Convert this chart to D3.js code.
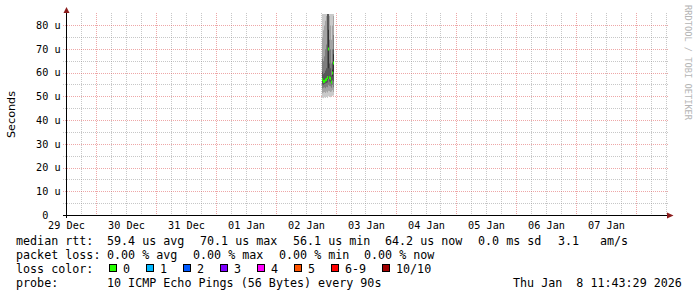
<!DOCTYPE html>
<html>
<head>
<meta charset="utf-8">
<script src="https://cdn.jsdelivr.net/npm/d3@7"></script>
<style>
  body { margin: 0; background: #fff; }
  svg { display: block; }
  .mono { font-family: 'DejaVu Sans Mono', monospace; fill: #000; white-space: pre; }
</style>
</head>
<body>
<div id="chart"></div>
<script>
// svg nominal area
var svgWidth = 697;
var svgHeight = 297;

// ----- data -----
// time window shown (UTC)
var timeStart = Date.UTC(2025, 11, 29, 12, 12);
var timeEnd = Date.UTC(2026, 0, 8, 12, 12);
var stepMinutes = 24;

// sample times for the one burst of data on 02 Jan
var sampleTimes = [
  '2026-01-02T18:24Z', '2026-01-02T18:48Z', '2026-01-02T19:12Z', '2026-01-02T19:36Z',
  '2026-01-02T20:00Z', '2026-01-02T20:24Z', '2026-01-02T20:48Z', '2026-01-02T21:12Z',
  '2026-01-02T21:36Z', '2026-01-02T22:00Z', '2026-01-02T22:24Z', '2026-01-02T22:48Z'
];

// 10 sorted ping rtts per sample (microseconds)
var pingSets = [
  [49.6, 51.5, 53.5, 55.2, 56.6, 58.0, 60.5, 66, 75, 92],
  [49.4, 51.8, 53.8, 55.0, 56.0, 56.8, 59.5, 65, 78, 95],
  [49.8, 52.0, 54.0, 55.4, 56.2, 56.8, 60.0, 67, 80, 98],
  [49.5, 51.6, 53.6, 55.6, 56.6, 57.4, 61.0, 70, 82, 99],
  [49.9, 52.2, 54.2, 55.8, 56.8, 57.8, 62.0, 72, 84, 97],
  [49.5, 51.8, 54.0, 56.0, 57.4, 58.8, 86, 90, 95, 99],
  [50.2, 52.5, 55.0, 57.5, 62.0, 78.2, 88, 92, 96, 100],
  [50.0, 52.4, 54.6, 56.4, 57.6, 58.4, 64, 74, 84, 96],
  [49.8, 52.0, 54.4, 56.0, 57.2, 58.2, 62, 70, 80, 94],
  [50.2, 52.2, 53.8, 55.2, 55.8, 56.4, 59, 64, 74, 90],
  [50.4, 52.8, 55.0, 57.0, 58.6, 61.4, 64.5, 70, 80, 93],
  [50.5, 52.0, 54.0, 56.5, 60.5, 67.9, 70, 76, 84, 95]
];

// median rtt per sample (microseconds) and loss per sample
var medians = [57.3, 56.4, 56.5, 57.0, 57.3, 58.1, 70.1, 58.0, 57.7, 56.1, 60.0, 64.2];
var losses = [0, 0, 0, 0, 0, 0, 0, 0, 0, 0, 0, 0];

// y ticks
var yMajorTicks = [0, 10, 20, 30, 40, 50, 60, 70, 80];
var yMinorTicks = [5, 15, 25, 35, 45, 55, 65, 75];

// loss colour legend
var lossLabels = ['0', '1', '2', '3', '4', '5', '6-9', '10/10'];
var lossColors = ['#26ff00', '#00b8ff', '#0059ff', '#7e00ff', '#ff00fe', '#ff5500', '#ff0000', '#a00000'];

// legend text items per row
var rttItems = ['median rtt:', '59.4 us avg', '70.1 us max', '56.1 us min', '64.2 us now', '0.0 ms sd', '3.1', 'am/s'];
var lossItems = ['packet loss:', '0.00 % avg', '0.00 % max', '0.00 % min', '0.00 % now'];
var probeItems = ['probe:', '10 ICMP Echo Pings (56 Bytes) every 90s'];
var stampText = 'Thu Jan  8 11:43:29 2026';

// -----------------------------------------------

var plot = { left: 66.5, right: 666.5, top: 13, bottom: 215.5 };

var svg = d3.select('#chart')
  .append('svg')
  .attr('width', svgWidth)
  .attr('height', svgHeight);

svg.append('rect')
  .attr('width', svgWidth)
  .attr('height', svgHeight)
  .attr('fill', '#fff');

// scales
var xScale = d3.scaleTime()
  .domain([new Date(timeStart), new Date(timeEnd)])
  .range([plot.left, plot.right]);

var yScale = d3.scaleLinear()
  .domain([0, 80])
  .range([215.5, 25.5]);

function px(v) { return Math.round(v - 0.5) + 0.5; }

// clip for the plot area
svg.append('clipPath')
  .attr('id', 'plotClip')
  .append('rect')
  .attr('x', plot.left)
  .attr('y', 14)
  .attr('width', plot.right - plot.left)
  .attr('height', 215 - 14);

var gridGroup = svg.append('g');

// vertical minor grid every 6 hours
var minorTimes = d3.utcHour.every(6).range(new Date(timeStart), new Date(timeEnd))
  .filter(d => d.getUTCHours() !== 0 && xScale(d) > plot.left + 1);
gridGroup.selectAll('line.vminor')
  .data(minorTimes)
  .enter()
  .append('line')
  .attr('x1', d => px(xScale(d)))
  .attr('x2', d => px(xScale(d)))
  .attr('y1', plot.top)
  .attr('y2', 215)
  .attr('stroke', 'rgba(143,143,143,0.5)')
  .attr('stroke-dasharray', '1,1');

// horizontal minor grid
gridGroup.selectAll('line.hminor')
  .data(yMinorTicks)
  .enter()
  .append('line')
  .attr('x1', 63)
  .attr('x2', 669)
  .attr('y1', d => px(yScale(d)))
  .attr('y2', d => px(yScale(d)))
  .attr('stroke', 'rgba(143,143,143,0.5)')
  .attr('stroke-dasharray', '1,1');

// vertical major grid at midnight
var dayTimes = d3.utcDay.range(new Date(timeStart), new Date(timeEnd));
gridGroup.selectAll('line.vmajor')
  .data(dayTimes)
  .enter()
  .append('line')
  .attr('x1', d => px(xScale(d)))
  .attr('x2', d => px(xScale(d)))
  .attr('y1', plot.top)
  .attr('y2', 215)
  .attr('stroke', 'rgba(222,80,80,0.5)')
  .attr('stroke-dasharray', '1,1');

// horizontal major grid
gridGroup.selectAll('line.hmajor')
  .data(yMajorTicks.filter(d => d > 0))
  .enter()
  .append('line')
  .attr('x1', 63)
  .attr('x2', 669)
  .attr('y1', d => px(yScale(d)))
  .attr('y2', d => px(yScale(d)))
  .attr('stroke', 'rgba(222,80,80,0.5)')
  .attr('stroke-dasharray', '1,1');

// smoke: pairs of pings from outside in, lighter to darker
var dataGroup = svg.append('g').attr('clip-path', 'url(#plotClip)');
var half = 5;
var smoke = [];
sampleTimes.forEach((t, i) => {
  var p = pingSets[i];
  for (var b = 0; b < half; b++) {
    var shade = Math.floor(190 / half * (half - 1 - b)) + 50;
    smoke.push({ t: new Date(t), lo: p[b], hi: p[p.length - 1 - b], shade: shade });
  }
});

function colX(t) { return Math.round(xScale(t)); }
function colW(t) {
  return Math.max(1, Math.round(xScale(new Date(+t + stepMinutes * 60000)) - xScale(t)));
}

dataGroup.selectAll('rect.smoke')
  .data(smoke)
  .enter()
  .append('rect')
  .attr('x', d => colX(d.t))
  .attr('width', d => colW(d.t))
  .attr('y', d => yScale(d.hi))
  .attr('height', d => yScale(d.lo) - yScale(d.hi))
  .attr('fill', d => d3.rgb(d.shade, d.shade, d.shade));

// median marker, coloured by loss
dataGroup.selectAll('rect.median')
  .data(medians)
  .enter()
  .append('rect')
  .attr('x', (d, i) => colX(new Date(sampleTimes[i])))
  .attr('width', (d, i) => colW(new Date(sampleTimes[i])))
  .attr('y', d => yScale(d) - 1.5)
  .attr('height', 3)
  .attr('fill', (d, i) => lossColors[losses[i]]);

// axes lines
svg.append('line')
  .attr('x1', 63).attr('x2', 668)
  .attr('y1', 215.5).attr('y2', 215.5)
  .attr('stroke', '#000');
svg.append('line')
  .attr('x1', 66.5).attr('x2', 66.5)
  .attr('y1', 218).attr('y2', 11)
  .attr('stroke', '#000');

// arrows
svg.append('polygon')
  .attr('points', '63.5,13 69.5,13 66.5,7')
  .attr('fill', '#8b1c1c');
svg.append('polygon')
  .attr('points', '667,212.5 667,218.5 673.5,215.5')
  .attr('fill', '#8b1c1c');

// y tick labels
svg.selectAll('text.ylab')
  .data(yMajorTicks)
  .enter()
  .append('text')
  .attr('class', 'mono')
  .attr('x', 36)
  .attr('y', d => yScale(d) + 3.3)
  .style('font-size', '10.2px')
  .text(d => d === 0 ? ' 0' : d + ' u');

// x tick labels at noon
var labelTimes = d3.utcDay.range(new Date(Date.UTC(2025, 11, 29)), new Date(Date.UTC(2026, 0, 8)))
  .map(d => d3.utcHour.offset(d, 12));
svg.selectAll('text.xlab')
  .data(labelTimes)
  .enter()
  .append('text')
  .attr('class', 'mono')
  .attr('x', d => xScale(d) + 0.5)
  .attr('y', 228.5)
  .attr('text-anchor', 'middle')
  .style('font-size', '10.2px')
  .text(d => d3.utcFormat('%d %b')(d));

// vertical unit label
svg.append('text')
  .attr('transform', 'translate(14.5, 114.5) rotate(-90)')
  .attr('text-anchor', 'middle')
  .style('font-family', "'DejaVu Sans', sans-serif")
  .style('font-size', '11.2px')
  .text('Seconds');

// watermark
svg.append('text')
  .attr('transform', 'translate(685, 5) rotate(90)')
  .attr('class', 'mono')
  .style('font-size', '8.7px')
  .style('fill', '#b4b4b4')
  .text('RRDTOOL / TOBI OETIKER');

// legend rows, items placed like rrdtool lays them out
var rowY = [245, 259, 273, 287];
var legendFont = '11.7px';

function legendRow(items, xs, y) {
  svg.append('g').selectAll('text')
    .data(items)
    .enter()
    .append('text')
    .attr('class', 'mono')
    .attr('x', (d, i) => xs[i])
    .attr('y', y)
    .style('font-size', legendFont)
    .text(d => d);
}

legendRow(rttItems, [16, 107, 200, 293, 385, 478, 558, 600], rowY[0]);
legendRow(lossItems, [16, 107, 193, 279, 364], rowY[1]);
legendRow(['loss color:'], [16], rowY[2]);
legendRow(probeItems, [16, 107], rowY[3]);

// loss colour boxes
var boxX = [];
var cursor = 109;
lossLabels.forEach(l => { boxX.push(cursor); cursor += 37 + (l.length - 1) * 7; });

var lossGroup = svg.append('g');
lossGroup.selectAll('rect')
  .data(lossColors)
  .enter()
  .append('rect')
  .attr('x', (d, i) => boxX[i] + 0.5)
  .attr('y', 264.5)
  .attr('width', 7)
  .attr('height', 7)
  .attr('fill', d => d)
  .attr('stroke', '#000');
lossGroup.selectAll('text')
  .data(lossLabels)
  .enter()
  .append('text')
  .attr('class', 'mono')
  .attr('x', (d, i) => boxX[i] + 14)
  .attr('y', rowY[2])
  .style('font-size', legendFont)
  .text(d => d);

// time stamp
svg.append('text')
  .attr('class', 'mono')
  .attr('x', 513)
  .attr('y', rowY[3])
  .style('font-size', legendFont)
  .text(stampText);
</script>
</body>
</html>
